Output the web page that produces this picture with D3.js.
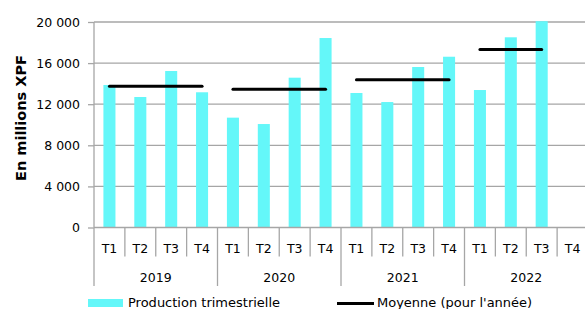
<!DOCTYPE html>
<html><head><meta charset="utf-8">
<script src="https://cdn.jsdelivr.net/npm/d3@7"></script>
<style>body{margin:0;background:#fff}svg{display:block}text{font-family:"DejaVu Sans",Verdana,sans-serif}</style>
</head><body>
<svg id="c" width="585" height="309"></svg>
<script>
const years = ["2019","2020","2021","2022"];
const quarters = ["T1","T2","T3","T4"];
const production = [
  [13870, 12700, 15230, 13160],
  [10690, 10070, 14580, 18440],
  [13090, 12210, 15620, 16620],
  [13380, 18510, 20080, null]
];
const averages = [13740, 13450, 14390, 17320];
const yTicks = [0, 4000, 8000, 12000, 16000, 20000];
const yLabels = ["0", "4 000", "8 000", "12 000", "16 000", "20 000"];
const seriesNames = ["Production trimestrielle", "Moyenne (pour l'année)"];

const svg = d3.select("#c");
const L = 94, R = 588, T = 22, B = 227.5;
const cats = [];
years.forEach((y, yi) => quarters.forEach((q, qi) => cats.push({y, q, yi, qi, v: production[yi][qi]})));
const x = d3.scaleBand().domain(cats.map((d, i) => i)).range([L, R]).paddingInner(0).paddingOuter(0);
const y = d3.scaleLinear().domain([0, 20000]).range([B, T]);
const bw = x.bandwidth() * 0.39;

// gridlines
svg.append("g").selectAll("line").data(yTicks.filter(t => t > 0)).join("line")
  .attr("x1", L).attr("x2", R).attr("y1", d => y(d)).attr("y2", d => y(d))
  .attr("stroke", "#a6a6a6").attr("stroke-width", 1.3);

// y axis
const yAxis = d3.axisLeft(y).tickValues(yTicks).tickFormat((d, i) => yLabels[i]).tickSize(6).tickPadding(8);
const ga = svg.append("g").attr("transform", `translate(${L},0)`).call(yAxis);
ga.select(".domain").remove();
ga.selectAll(".tick line").attr("stroke", "#a6a6a6").attr("stroke-width", 1.3);
ga.selectAll(".tick text").attr("font-size", 12.5).attr("fill", "#000").attr("font-family", "DejaVu Sans");
svg.append("line").attr("x1", L).attr("x2", L).attr("y1", T).attr("y2", B).attr("stroke", "#a6a6a6").attr("stroke-width", 1.3);

// bars
svg.append("g").selectAll("rect").data(cats.filter(d => d.v != null)).join("rect")
  .attr("x", d => x(cats.indexOf(d)) + (x.bandwidth() - bw) / 2)
  .attr("width", bw)
  .attr("y", d => y(d.v))
  .attr("height", d => y(0) - y(d.v))
  .attr("fill", "#64f7f9");

// averages
svg.append("g").selectAll("line").data(averages).join("line")
  .attr("x1", (d, i) => x(i * 4) + x.bandwidth() / 2)
  .attr("x2", (d, i) => { const n = production[i].filter(v => v != null).length; return x(i * 4 + n - 1) + x.bandwidth() / 2; })
  .attr("y1", d => y(d)).attr("y2", d => y(d))
  .attr("stroke", "#000").attr("stroke-width", 3).attr("stroke-linecap", "round");

// x axis
svg.append("line").attr("x1", L).attr("x2", R).attr("y1", B).attr("y2", B).attr("stroke", "#a6a6a6").attr("stroke-width", 1.3);
const gx = svg.append("g");
for (let i = 0; i <= cats.length; i++) {
  const xx = i < cats.length ? x(i) : R;
  const isYear = i % 4 === 0;
  gx.append("line").attr("x1", xx).attr("x2", xx).attr("y1", B).attr("y2", isYear ? 286 : 256.5)
    .attr("stroke", "#a6a6a6").attr("stroke-width", 1.3);
}
gx.selectAll("text.q").data(cats).join("text").attr("class", "q")
  .attr("x", (d, i) => x(i) + x.bandwidth() / 2).attr("y", 253)
  .attr("text-anchor", "middle").attr("font-size", 12.5).text(d => d.q);
gx.selectAll("text.yr").data(years).join("text").attr("class", "yr")
  .attr("x", (d, i) => (x(i * 4) + (i * 4 + 4 < cats.length ? x(i * 4 + 4) : R)) / 2).attr("y", 282)
  .attr("text-anchor", "middle").attr("font-size", 12.5).text(d => d);

// y title
svg.append("text").attr("transform", `translate(25.5,118) rotate(-90)`)
  .attr("text-anchor", "middle").attr("font-size", 14.5).attr("font-weight", "bold").text("En millions XPF");

// legend
svg.append("rect").attr("x", 88).attr("y", 299).attr("width", 35).attr("height", 8).attr("fill", "#64f7f9");
svg.append("text").attr("x", 128).attr("y", 306.5).attr("font-size", 13).text(seriesNames[0]);
svg.append("line").attr("x1", 337).attr("x2", 374).attr("y1", 303.5).attr("y2", 303.5).attr("stroke", "#000").attr("stroke-width", 3);
svg.append("text").attr("x", 377).attr("y", 306.5).attr("font-size", 13).text(seriesNames[1]);
</script>
</body></html>
